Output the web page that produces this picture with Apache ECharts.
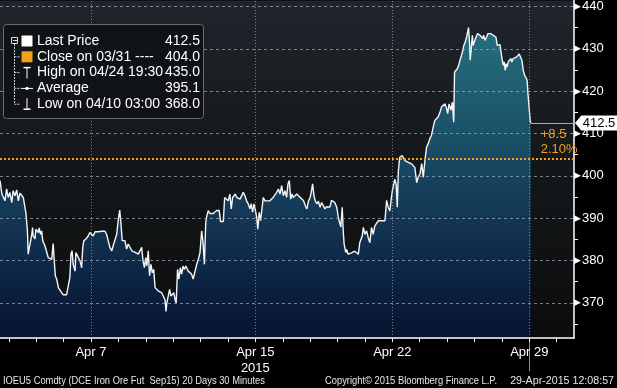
<!DOCTYPE html>
<html><head><meta charset="utf-8">
<script src="https://cdn.jsdelivr.net/npm/echarts@6/dist/echarts.min.js"></script>
<style>html,body{margin:0;padding:0;background:#000;}#c{width:617px;height:388px;}</style>
</head><body><div id="c"></div>
<script>
// ---- data ----
const tradingDays = ['Apr 1','Apr 2','Apr 3','Apr 7','Apr 8','Apr 9','Apr 10','Apr 13','Apr 14','Apr 15','Apr 16','Apr 17','Apr 20','Apr 21','Apr 22','Apr 23','Apr 24','Apr 27','Apr 28','Apr 29','Apr 30'];
const labelDayIndex = [3, 9, 14, 19];
const currentDayIndex = [19];
const yearLabel = '2015';
const yearUnderDay = 9;
const priceTicks = [370, 380, 390, 400, 410, 420, 430, 440];
const priceMinorTicks = [365, 370, 375, 380, 385, 390, 395, 400, 405, 410, 415, 420, 425, 430, 435, 440];
// time in trading days since Apr 1 session start
const times = [-0.32,-0.25,-0.14,-0.08,-0.02,0.04,0.11,0.16,0.23,0.29,0.35,0.41,0.47,0.53,0.59,0.63,0.68,0.71,0.75,0.80,0.84,0.87,0.89,0.96,0.99,1.04,1.08,1.11,1.16,1.20,1.24,1.28,1.32,1.38,1.44,1.50,1.57,1.62,1.66,1.70,1.75,1.81,1.87,1.93,1.99,2.05,2.11,2.17,2.23,2.27,2.31,2.35,2.42,2.45,2.50,2.54,2.60,2.66,2.70,2.74,2.82,2.86,2.90,2.96,3.03,3.08,3.15,3.21,3.27,3.33,3.39,3.45,3.51,3.57,3.63,3.69,3.76,3.81,3.88,3.94,4.00,4.05,4.09,4.14,4.19,4.24,4.30,4.36,4.42,4.49,4.54,4.61,4.67,4.73,4.79,4.85,4.90,4.95,5.00,5.04,5.09,5.14,5.19,5.24,5.29,5.34,5.40,5.46,5.52,5.58,5.64,5.70,5.74,5.77,5.82,5.87,5.92,5.97,6.02,6.07,6.11,6.16,6.21,6.26,6.31,6.36,6.41,6.46,6.50,6.55,6.61,6.67,6.73,6.80,6.86,6.92,6.98,7.04,7.09,7.14,7.19,7.23,7.28,7.34,7.46,7.59,7.68,7.73,7.83,7.88,7.95,8.01,8.07,8.12,8.17,8.22,8.27,8.32,8.38,8.44,8.50,8.56,8.62,8.68,8.74,8.80,8.85,8.90,8.95,8.99,9.05,9.09,9.14,9.19,9.24,9.29,9.35,9.41,9.53,9.65,9.72,9.78,9.84,9.90,9.96,10.02,10.08,10.14,10.19,10.24,10.29,10.34,10.38,10.45,10.51,10.57,10.64,10.70,10.76,10.82,10.88,10.94,11.00,11.05,11.09,11.14,11.19,11.24,11.30,11.36,11.42,11.48,11.54,11.60,11.66,11.72,11.78,11.84,11.90,11.97,12.03,12.09,12.12,12.17,12.21,12.24,12.30,12.33,12.39,12.45,12.51,12.57,12.63,12.70,12.76,12.81,12.85,12.90,12.94,13.00,13.06,13.12,13.18,13.24,13.30,13.36,13.43,13.49,13.55,13.61,13.67,13.73,13.79,13.85,13.91,13.95,14.00,14.05,14.09,14.14,14.18,14.22,14.27,14.32,14.36,14.41,14.46,14.52,14.58,14.64,14.70,14.76,14.82,14.89,14.94,15.01,15.07,15.13,15.19,15.25,15.31,15.37,15.43,15.49,15.55,15.62,15.67,15.74,15.80,15.86,15.92,15.98,16.02,16.07,16.10,16.14,16.19,16.24,16.27,16.32,16.37,16.42,16.47,16.52,16.57,16.61,16.66,16.71,16.75,16.78,16.82,16.84,16.88,16.92,16.95,16.99,17.03,17.08,17.11,17.15,17.20,17.25,17.30,17.33,17.38,17.44,17.49,17.54,17.59,17.63,17.68,17.73,17.78,17.83,17.88,17.93,17.96,18.00,18.05,18.08,18.12,18.15,18.19,18.23,18.27,18.32,18.36,18.41,18.47,18.54,18.58,18.63,18.68,18.73,18.78,18.83,18.88,18.92,18.95,18.99,19.03,19.05];
const prices = [398.9,395.7,394.1,396.9,394.9,396.1,393.7,396.5,395.3,396.7,394.1,395.9,395.7,394.9,395.3,391.0,387.0,381.5,383.1,384.7,386.2,387.8,385.8,385.1,387.4,387.8,386.6,387.7,386.2,387.0,384.7,384.3,383.5,383.9,380.7,380.3,380.3,384.0,379.9,376.4,375.6,373.6,374.0,372.4,371.9,371.6,371.9,371.5,376.0,381.5,382.3,379.1,377.5,381.9,382.3,380.7,379.9,378.3,383.1,384.7,385.1,384.7,385.8,386.6,386.4,385.8,386.8,386.6,386.8,386.4,386.9,386.6,386.9,386.2,386.4,383.1,382.3,383.5,383.1,386.2,389.8,391.9,389.0,384.7,385.1,384.7,382.7,383.9,384.3,382.3,382.3,381.9,382.3,381.5,381.5,383.1,379.9,378.3,380.7,378.7,382.3,376.4,379.1,377.1,377.9,373.6,373.2,372.8,373.2,372.4,372.8,370.8,368.0,370.0,369.6,373.2,371.6,371.2,372.4,370.8,370.0,377.9,375.6,378.3,376.8,378.7,377.9,378.7,378.3,377.5,377.9,376.8,375.6,377.5,379.1,380.3,381.9,387.0,384.3,379.1,389.0,390.6,391.8,391.1,391.1,391.8,391.8,389.2,389.2,394.9,394.5,394.1,395.7,392.2,394.9,394.9,395.7,394.9,395.3,394.5,394.9,396.1,395.3,394.1,393.4,392.2,393.4,391.4,393.4,392.2,390.2,387.4,391.4,389.4,392.2,394.9,394.1,394.1,394.1,394.9,394.9,396.1,396.9,395.7,397.7,395.3,396.5,394.9,398.1,398.9,394.5,395.7,394.9,394.9,395.7,396.1,394.9,395.3,394.1,393.0,392.2,394.1,394.9,396.5,398.1,395.3,394.0,393.4,394.0,392.6,393.7,393.3,392.2,392.7,392.6,392.6,394.2,394.2,393.7,392.6,390.1,389.7,387.9,392.6,386.7,383.9,381.9,382.6,381.5,381.8,381.8,381.5,382.2,381.8,381.5,384.2,384.6,385.8,387.8,386.2,387.0,385.4,384.2,387.8,386.2,388.2,388.6,389.4,389.7,389.4,389.0,389.4,394.2,392.6,391.7,394.1,396.5,398.0,399.2,398.0,392.6,401.2,404.4,404.0,404.8,404.4,403.6,403.2,403.2,403.2,402.8,402.8,402.0,398.4,399.6,400.5,402.9,399.7,403.7,406.8,407.6,408.8,409.6,411.5,413.1,413.5,413.9,415.1,416.3,416.7,417.0,415.9,414.7,417.0,417.4,415.5,417.4,412.7,424.5,424.9,425.3,426.1,427.3,428.4,429.6,430.8,431.6,432.8,434.0,435.0,431.2,427.3,430.0,433.2,430.8,430.4,432.4,432.0,433.6,434.0,433.2,432.8,432.4,433.2,432.0,432.8,433.6,434.0,433.6,433.7,433.2,433.6,432.8,430.8,431.2,431.0,429.6,427.7,426.1,426.9,424.9,426.5,425.7,426.9,426.5,427.7,426.9,427.7,427.3,428.1,427.7,428.8,428.4,427.3,424.9,423.7,423.2,422.5,419.4,416.3,413.1,412.5];
const prevClose = 404.0;
const legendLabels = ['Last Price', 'Close on 03/31 ----', 'High on 04/24 19:30', 'Average', 'Low on 04/10 03:00'];
const legendValues = [412.5, 404.0, 435.0, 395.1, 368.0];
const footerLeft = 'IOEU5 Comdty (DCE Iron Ore Fut  Sep15) 20 Days 30 Minutes';
const footerMid = 'Copyright\u00A9 2015 Bloomberg Finance L.P.';
const footerRight = '29-Apr-2015 12:08:57';

// ---- build ----
const X_MIN = -0.32, X_MAX = 20.63, Y_MIN = 361.7, Y_MAX = 441.4;
const seriesData = times.map((t, i) => [t, prices[i]]);
const lastT = times[times.length - 1];
const lastP = prices[prices.length - 1];
const chg = lastP - prevClose;
const chgPct = chg / prevClose * 100;
const ORANGE = '#f4a11e';
const GRIDC = 'rgba(165,172,185,0.7)';
const dayTicks = tradingDays.map((d, i) => i);

const chart = echarts.init(document.getElementById('c'), null, {renderer: 'canvas'});

const vLines = labelDayIndex.map(d => ({
  xAxis: d, lineStyle: {color: GRIDC, type: [1, 2], width: 1}, label: {show: false}
}));
const hLines = priceTicks.map(v => ({
  yAxis: v, lineStyle: {color: GRIDC, type: [3, 3], width: 1}, label: {show: false}
}));

const legendFont = "'Liberation Sans', Arial, sans-serif";
const rowY = i => 41 + i * 15.8;
const graphics = [];
graphics.push({type: 'rect', shape: {x: 3.5, y: 24.5, width: 200, height: 94, r: 3},
  style: {fill: 'rgba(16,18,20,0.9)', stroke: '#6a6a6a', lineWidth: 1}, z: 10});
// tree
graphics.push({type: 'rect', shape: {x: 11.5, y: 37.5, width: 6, height: 6},
  style: {fill: 'none', stroke: '#ddd', lineWidth: 1}, z: 11});
graphics.push({type: 'line', shape: {x1: 13, y1: 40.5, x2: 17, y2: 40.5}, style: {stroke: '#ddd', lineWidth: 1}, z: 11});
graphics.push({type: 'line', shape: {x1: 14.5, y1: 44, x2: 14.5, y2: rowY(4)}, style: {stroke: '#ccc', lineWidth: 1, lineDash: [2, 1]}, z: 11});
for (let i = 1; i < 5; i++) {
  graphics.push({type: 'line', shape: {x1: 14.5, y1: rowY(i), x2: 19.5, y2: rowY(i)}, style: {stroke: '#ccc', lineWidth: 1, lineDash: [2, 1]}, z: 11});
}
// icons
graphics.push({type: 'rect', shape: {x: 21.5, y: rowY(0) - 5.5, width: 11, height: 11}, style: {fill: '#ffffff'}, z: 11});
graphics.push({type: 'rect', shape: {x: 21.5, y: rowY(1) - 5.5, width: 11, height: 11}, style: {fill: ORANGE}, z: 11});
graphics.push({type: 'line', shape: {x1: 27, y1: rowY(2) - 5, x2: 27, y2: rowY(2) + 6}, style: {stroke: '#fff', lineWidth: 1}, z: 11});
graphics.push({type: 'line', shape: {x1: 23.5, y1: rowY(2) - 5, x2: 30.5, y2: rowY(2) - 5}, style: {stroke: '#fff', lineWidth: 1.5}, z: 11});
graphics.push({type: 'line', shape: {x1: 21, y1: rowY(3), x2: 33, y2: rowY(3)}, style: {stroke: '#fff', lineWidth: 1}, z: 11});
graphics.push({type: 'circle', shape: {cx: 27, cy: rowY(3), r: 1.6}, style: {fill: '#fff'}, z: 11});
graphics.push({type: 'line', shape: {x1: 27, y1: rowY(4) - 6, x2: 27, y2: rowY(4) + 5}, style: {stroke: '#fff', lineWidth: 1}, z: 11});
graphics.push({type: 'line', shape: {x1: 23.5, y1: rowY(4) + 5, x2: 30.5, y2: rowY(4) + 5}, style: {stroke: '#fff', lineWidth: 1.5}, z: 11});
legendLabels.forEach((lab, i) => {
  graphics.push({type: 'text', x: 37, y: rowY(i), style: {text: lab, fill: '#fff', font: '14px ' + legendFont, textVerticalAlign: 'middle', textAlign: 'left'}, z: 11});
  graphics.push({type: 'text', x: 200, y: rowY(i), style: {text: legendValues[i].toFixed(1), fill: '#fff', font: '14px ' + legendFont, textVerticalAlign: 'middle', textAlign: 'right'}, z: 11});
});
const footFont = "11px 'Liberation Sans', Arial, sans-serif";
graphics.push({type: 'text', x: 3, y: 381, scaleX: 0.85, style: {text: footerLeft, fill: '#e6e6e6', font: footFont, textVerticalAlign: 'middle'}});
graphics.push({type: 'text', x: 325, y: 381, scaleX: 0.85, style: {text: footerMid, fill: '#e6e6e6', font: footFont, textVerticalAlign: 'middle'}});
graphics.push({type: 'text', x: 614, y: 381, scaleX: 0.97, style: {text: footerRight, fill: '#e6e6e6', font: footFont, textVerticalAlign: 'middle', textAlign: 'right'}});

const option = {
  animation: false,
  backgroundColor: '#000',
  grid: {
    left: 0, right: 43, top: 0, bottom: 50, show: true, borderWidth: 0,
    backgroundColor: new echarts.graphic.LinearGradient(0, 0, 0, 1, [
      {offset: 0, color: '#1f252c'}, {offset: 0.5, color: '#141719'}, {offset: 1, color: '#0b0c0d'}
    ])
  },
  xAxis: [{
    type: 'value', min: X_MIN, max: X_MAX, z: 3,
    axisLine: {show: true, onZero: false, lineStyle: {color: '#fff', width: 1.5}},
    axisTick: {show: true, customValues: dayTicks, length: 4, lineStyle: {color: '#fff', width: 1}},
    axisLabel: {
      customValues: labelDayIndex, color: '#fff', fontSize: 13, margin: 6, lineHeight: 16,
      fontFamily: legendFont,
      formatter: v => tradingDays[Math.round(v)] + (Math.round(v) === yearUnderDay ? '\n' + yearLabel : '')
    },
    splitLine: {show: false}
  }, {
    type: 'value', min: X_MIN, max: X_MAX, position: 'bottom', z: 1,
    axisLine: {show: false, onZero: false},
    axisTick: {show: true, customValues: currentDayIndex, length: 33, lineStyle: {color: '#8a8f96', width: 1}},
    axisLabel: {show: false},
    splitLine: {show: false}
  }],
  yAxis: {
    type: 'value', position: 'right', min: Y_MIN, max: Y_MAX, minInterval: 10, maxInterval: 10, z: 3,
    axisLine: {show: true, onZero: false, lineStyle: {color: '#fff', width: 1.5}},
    axisTick: {show: true, customValues: priceMinorTicks, length: 4, lineStyle: {color: '#fff', width: 1}},
    axisLabel: {
      customValues: priceTicks, margin: 0, color: '#fff', fontFamily: legendFont,
      formatter: v => '{t|\u25B6}{v|' + v + '}',
      rich: {
        t: {fontFamily: 'DejaVu Sans', fontSize: 9, color: '#fff', padding: [0, 1, 0, 0]},
        v: {fontSize: 13, color: '#fff', fontFamily: legendFont}
      }
    },
    splitLine: {show: false}
  },
  series: [{
    type: 'line', data: seriesData, showSymbol: false, symbol: 'none', z: 2,
    lineStyle: {color: '#f4f6f8', width: 1.4},
    areaStyle: {
      origin: 'start',
      color: new echarts.graphic.LinearGradient(0, 0, 0, 1, [
        {offset: 0, color: '#2a8ea3'}, {offset: 0.3, color: '#1d6f8c'}, {offset: 0.55, color: '#164d76'},
        {offset: 0.8, color: '#0c2e5a'}, {offset: 1, color: '#06173d'}
      ])
    },
    markLine: {
      silent: true, symbol: ['none', 'none'],
      data: [
        ...hLines,
        ...vLines,
        {yAxis: prevClose, lineStyle: {color: ORANGE, type: [2, 2], width: 2}, label: {show: false}},
        [
          {coord: [lastT, lastP], lineStyle: {color: ORANGE, type: 'solid', width: 1},
            label: {show: true, position: 'insideStartBottom', distance: [10, 4],
              formatter: (chg >= 0 ? '+' : '') + chg.toFixed(1) + '\n' + chgPct.toFixed(2) + '%',
              color: ORANGE, fontSize: 13, lineHeight: 15, fontFamily: legendFont, align: 'left'}},
          {coord: [X_MAX, lastP]}
        ]
      ]
    },
    markPoint: {
      silent: true,
      symbol: 'path://M0,7 L6,0 L40,0 L40,14 L6,14 Z',
      symbolSize: [42, 15], symbolKeepAspect: false, symbolOffset: [22, 0],
      itemStyle: {color: '#ffffff'},
      label: {show: true, position: 'inside', color: '#000', fontSize: 13, fontFamily: legendFont, offset: [3, 0],
        formatter: () => lastP.toFixed(1)},
      data: [{coord: [X_MAX, lastP]}]
    }
  }],
  graphic: graphics
};
chart.setOption(option);
</script>
</body></html>
